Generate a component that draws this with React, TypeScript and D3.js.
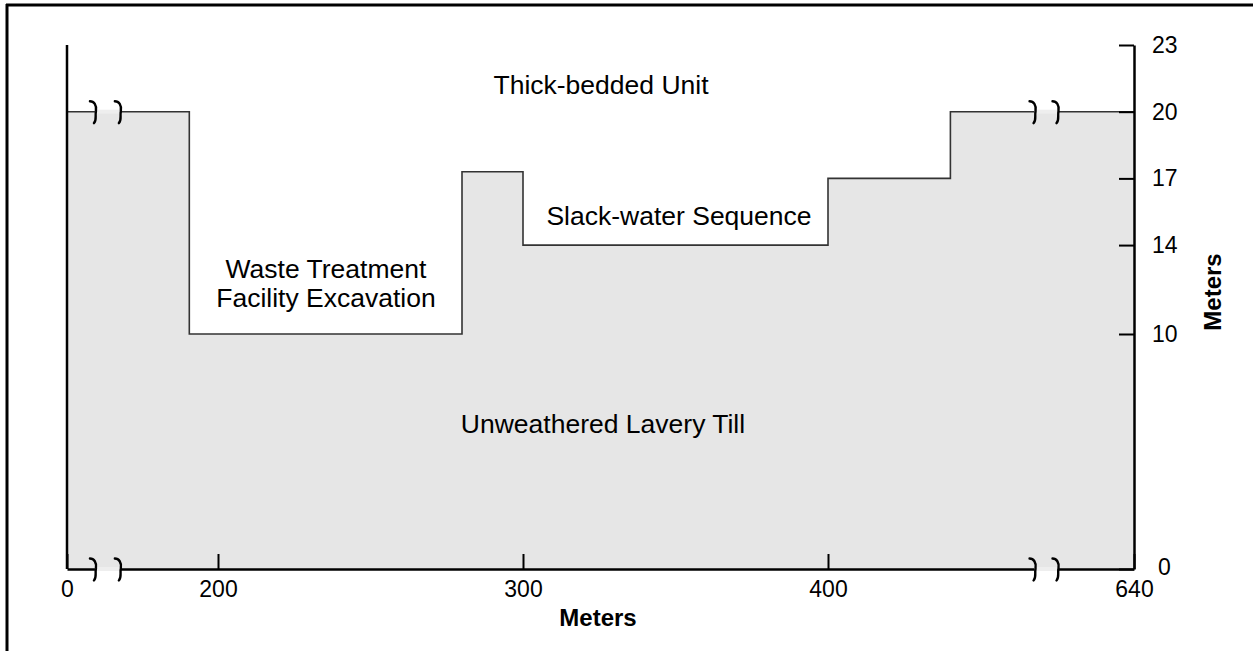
import * as d3 from 'd3';
import React, { useRef, useEffect } from 'react';

// distance along the section (m) where the surface steps, and the surface elevation after each step
const stepDistance: number[] = [0, 162, 280, 300, 400, 496, 640];
const stepElevation: number[] = [20, 10, 17.3, 14, 17, 20, 20];

const xTicks: number[] = [0, 200, 300, 400, 640];
const yTicks: number[] = [0, 10, 14, 17, 20, 23];

// where the axis is broken (m)
const breakDistance: number[] = [37, 70, 562, 580];

const width = 1253;
const height = 651;
const font = "Arial, 'Liberation Sans', sans-serif";

function Plot(): any {
  const ref = useRef(null);

  useEffect(() => {
    // broken axes -> piecewise scales
    const xScale = d3.scaleLinear()
      .domain([0, 200, 400, 640])
      .range([67, 218, 828, 1134]);

    const yScale = d3.scaleLinear()
      .domain([0, 10, 23])
      .range([569, 334, 45]);

    const svg = d3.select(ref.current);
    svg.selectAll("*").remove();

    const pts: Array<[number, number]> = stepDistance.map((d, i) => [d, stepElevation[i]]);

    const area = d3.area<[number, number]>()
      .curve(d3.curveStepAfter)
      .x(d => xScale(d[0]))
      .y0(yScale(0))
      .y1(d => yScale(d[1]));

    const line = d3.line<[number, number]>()
      .curve(d3.curveStepAfter)
      .x(d => xScale(d[0]))
      .y(d => yScale(d[1]));

    svg.append("path")
      .attr("d", area(pts))
      .attr("fill", "#e6e6e6");

    svg.append("path")
      .attr("d", line(pts))
      .attr("fill", "none")
      .attr("stroke", "#333")
      .attr("stroke-width", 1.6);

    // left edge
    svg.append("line")
      .attr("x1", xScale(0)).attr("x2", xScale(0))
      .attr("y1", yScale(23)).attr("y2", yScale(0))
      .attr("stroke", "#000").attr("stroke-width", 2.5);

    // bottom axis
    const xAxis = svg.append("g")
      .attr("transform", "translate(0," + yScale(0) + ")")
      .call(d3.axisBottom(xScale).tickValues(xTicks).tickFormat(d3.format("d"))
        .tickSizeInner(-15).tickSizeOuter(0).tickPadding(12));
    xAxis.select(".domain").attr("stroke-width", 2.5);
    xAxis.selectAll(".tick line").attr("stroke-width", 2);
    xAxis.selectAll("text")
      .attr("font-family", font).attr("font-size", 23).attr("fill", "#000");

    // right axis
    const yAxis = svg.append("g")
      .attr("transform", "translate(" + xScale(640) + ",0)")
      .call(d3.axisRight(yScale).tickValues(yTicks).tickFormat(d3.format("d"))
        .tickSizeInner(-15).tickSizeOuter(0).tickPadding(18));
    yAxis.select(".domain").attr("stroke-width", 2.5);
    yAxis.selectAll(".tick line").attr("stroke-width", 2);
    yAxis.selectAll("text")
      .attr("font-family", font).attr("font-size", 23).attr("fill", "#000")
      .attr("dx", (d: any) => d === 0 ? 6 : 0)
      .attr("dy", (d: any) => d === 0 ? "0.22em" : "0.33em");

    // axis breaks: gap in the line plus a wavy mark
    const topY = yScale(20);
    const botY = yScale(0);
    [[breakDistance[0], breakDistance[1]], [breakDistance[2], breakDistance[3]]].forEach(([a, b]) => {
      [topY, botY].forEach((yy) => {
        svg.append("rect")
          .attr("x", xScale(a)).attr("width", xScale(b) - xScale(a))
          .attr("y", yy - 2).attr("height", 4)
          .attr("fill", "#eeeeee");
        [a, b].forEach((bx) => {
          svg.append("path")
            .attr("transform", "translate(" + xScale(bx) + "," + (yy + 0.5) + ")")
            .attr("d", "M -5,-11 C -1,-11 2,-7 1,-1 C 0,4 2,8 -1,11")
            .attr("fill", "none")
            .attr("stroke", "#000")
            .attr("stroke-width", 2.4)
            .attr("stroke-linecap", "round");
        });
      });
    });
  }, []);

  return (
    <svg
      ref={ref}
      width={width}
      height={height}
      style={{ position: "absolute", left: 0, top: 0, background: "#fff" }}
    >
    </svg>
  );
}

function App(): any {
  return (
    <div style={{ position: "absolute", left: 0, top: 0, width: width, height: height }}>
      <Plot />
      <svg width={width} height={height} style={{ position: "absolute", left: 0, top: 0, pointerEvents: "none" }}>
        {/* frame */}
        <line x1={6} x2={width} y1={5} y2={5} stroke="#000" strokeWidth={3} />
        <line x1={7} x2={7} y1={4} y2={height} stroke="#000" strokeWidth={3} />
        <g fontFamily={font} fontSize={26.5} fill="#000" textAnchor="middle">
          <text x={601} y={94}>Thick-bedded Unit</text>
          <text x={679} y={225}>Slack-water Sequence</text>
          <text x={326} y={278}>Waste Treatment</text>
          <text x={326} y={307}>Facility Excavation</text>
          <text x={603} y={433}>Unweathered Lavery Till</text>
        </g>
        <g fontFamily={font} fontSize={24} fontWeight="bold" fill="#000" textAnchor="middle">
          <text x={598} y={626}>Meters</text>
          <text transform="translate(1221,292) rotate(-90)">Meters</text>
        </g>
      </svg>
    </div>
  );
}

export default App;
